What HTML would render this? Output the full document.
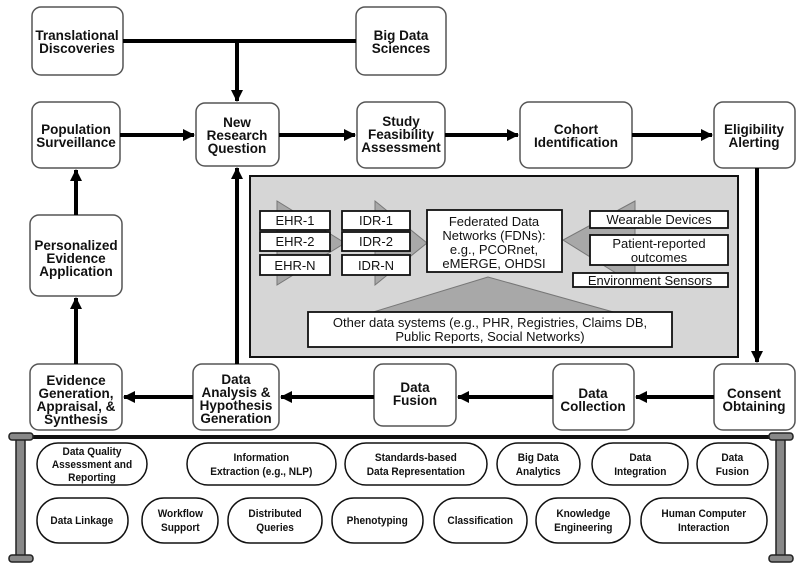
<!DOCTYPE html>
<html><head><meta charset="utf-8"><style>
html,body{margin:0;padding:0;background:#fff}
svg text{font-family:"Liberation Sans",sans-serif;font-weight:bold;fill:#111}
</style></head><body>
<svg width="800" height="570" viewBox="0 0 800 570" xmlns="http://www.w3.org/2000/svg">
<defs>
<marker id="a" markerWidth="12" markerHeight="12" refX="11" refY="6" orient="auto" markerUnits="userSpaceOnUse">
<path d="M0,0 L12,6 L0,12 z" fill="#000"/></marker>
</defs>
<g fill="#fff" stroke="#555" stroke-width="1.5">
<rect x="32" y="7" width="91" height="68" rx="9"/>
<rect x="356" y="7" width="90" height="68" rx="9"/>
<rect x="32" y="102" width="88" height="66" rx="9"/>
<rect x="196" y="103" width="83" height="63" rx="9"/>
<rect x="357" y="102" width="88" height="66" rx="9"/>
<rect x="520" y="102" width="112" height="66" rx="9"/>
<rect x="714" y="102" width="81" height="66" rx="9"/>
<rect x="30" y="215" width="92" height="81" rx="9"/>
<rect x="30" y="364" width="92" height="66" rx="9"/>
<rect x="193" y="364" width="86" height="66" rx="9"/>
<rect x="374" y="364" width="82" height="62" rx="9"/>
<rect x="553" y="364" width="81" height="66" rx="9"/>
<rect x="714" y="364" width="81" height="66" rx="9"/>
</g>
<g stroke="#000" stroke-width="4" fill="none">
<line x1="123" y1="41" x2="356" y2="41"/>
<line x1="237" y1="41" x2="237" y2="101" marker-end="url(#a)"/>
<line x1="120" y1="135" x2="194" y2="135" marker-end="url(#a)"/>
<line x1="279" y1="135" x2="355" y2="135" marker-end="url(#a)"/>
<line x1="445" y1="135" x2="518" y2="135" marker-end="url(#a)"/>
<line x1="632" y1="135" x2="712" y2="135" marker-end="url(#a)"/>
<line x1="757" y1="168" x2="757" y2="362" marker-end="url(#a)"/>
<line x1="714" y1="397" x2="636" y2="397" marker-end="url(#a)"/>
<line x1="553" y1="397" x2="458" y2="397" marker-end="url(#a)"/>
<line x1="374" y1="397" x2="281" y2="397" marker-end="url(#a)"/>
<line x1="193" y1="397" x2="124" y2="397" marker-end="url(#a)"/>
<line x1="76" y1="364" x2="76" y2="298" marker-end="url(#a)"/>
<line x1="76" y1="215" x2="76" y2="170" marker-end="url(#a)"/>
<line x1="237" y1="364" x2="237" y2="168" marker-end="url(#a)"/>
</g>
<g font-size="13.5" text-anchor="middle">
<text x="77" y="40">Translational</text><text x="77" y="53">Discoveries</text>
<text x="401" y="40">Big Data</text><text x="401" y="53">Sciences</text>
<text x="76" y="134">Population</text><text x="76" y="147">Surveillance</text>
<text x="237" y="127">New</text><text x="237" y="140">Research</text><text x="237" y="153">Question</text>
<text x="401" y="126">Study</text><text x="401" y="139">Feasibility</text><text x="401" y="152">Assessment</text>
<text x="576" y="134">Cohort</text><text x="576" y="147">Identification</text>
<text x="754" y="134">Eligibility</text><text x="754" y="147">Alerting</text>
<text x="76" y="250">Personalized</text><text x="76" y="263">Evidence</text><text x="76" y="276">Application</text>
<text x="76" y="385">Evidence</text><text x="76" y="398">Generation,</text><text x="76" y="411">Appraisal, &amp;</text><text x="76" y="424">Synthesis</text>
<text x="236" y="384">Data</text><text x="236" y="397">Analysis &amp;</text><text x="236" y="410">Hypothesis</text><text x="236" y="423">Generation</text>
<text x="415" y="392">Data</text><text x="415" y="405">Fusion</text>
<text x="593" y="398">Data</text><text x="593" y="411">Collection</text>
<text x="754" y="398">Consent</text><text x="754" y="411">Obtaining</text>
</g>
<rect x="250" y="176" width="488" height="181" fill="#d6d6d6" stroke="#111" stroke-width="2"/>
<g fill="#a8a8a8" stroke="#777" stroke-width="1">
<polygon points="277,201 277,285 345,243"/>
<polygon points="375,201 375,285 427,243"/>
<polygon points="635,201 635,285 563,240"/>
<polygon points="488,277 370,313 617,313"/>
</g>
<g fill="#fff" stroke="#111" stroke-width="1.8">
<rect x="260" y="211" width="70" height="19"/>
<rect x="260" y="232" width="70" height="19"/>
<rect x="260" y="255" width="70" height="20"/>
<rect x="342" y="211" width="68" height="19"/>
<rect x="342" y="232" width="68" height="19"/>
<rect x="342" y="255" width="68" height="20"/>
<rect x="427" y="210" width="135" height="62"/>
<rect x="590" y="211" width="138" height="17"/>
<rect x="590" y="235" width="138" height="30"/>
<rect x="573" y="273" width="155" height="14"/>
<rect x="308" y="312" width="364" height="35"/>
</g>
<g font-size="13" text-anchor="middle">
<text x="295" y="225" style="font-weight:normal">EHR-1</text>
<text x="295" y="246" style="font-weight:normal">EHR-2</text>
<text x="295" y="270" style="font-weight:normal">EHR-N</text>
<text x="376" y="225" style="font-weight:normal">IDR-1</text>
<text x="376" y="246" style="font-weight:normal">IDR-2</text>
<text x="376" y="270" style="font-weight:normal">IDR-N</text>
<text x="494" y="226" style="font-weight:normal">Federated Data</text>
<text x="494" y="240" style="font-weight:normal">Networks (FDNs):</text>
<text x="494" y="254" style="font-weight:normal">e.g., PCORnet,</text>
<text x="494" y="268" style="font-weight:normal">eMERGE, OHDSI</text>
<text x="659" y="224" style="font-weight:normal">Wearable Devices</text>
<text x="659" y="248" style="font-weight:normal">Patient-reported</text>
<text x="659" y="262" style="font-weight:normal">outcomes</text>
<text x="650" y="285" style="font-weight:normal">Environment Sensors</text>
<text x="490" y="327" style="font-weight:normal">Other data systems (e.g., PHR, Registries, Claims DB,</text>
<text x="490" y="341" style="font-weight:normal">Public Reports, Social Networks)</text>
</g>
<line x1="10" y1="437" x2="790" y2="437" stroke="#111" stroke-width="4"/>
<g fill="#888" stroke="#222" stroke-width="1.5">
<rect x="16" y="437" width="9" height="120"/>
<rect x="776" y="437" width="9" height="120"/>
<rect x="9" y="433" width="24" height="7" rx="3"/>
<rect x="9" y="555" width="24" height="7" rx="3"/>
<rect x="769" y="433" width="24" height="7" rx="3"/>
<rect x="769" y="555" width="24" height="7" rx="3"/>
</g>
<g fill="#fff" stroke="#111" stroke-width="1.5">
<rect x="37" y="443" width="110" height="42" rx="21"/>
<rect x="187" y="443" width="149" height="42" rx="21"/>
<rect x="345" y="443" width="142" height="42" rx="21"/>
<rect x="497" y="443" width="83" height="42" rx="21"/>
<rect x="592" y="443" width="96" height="42" rx="21"/>
<rect x="697" y="443" width="71" height="42" rx="21"/>
<rect x="37" y="498" width="91" height="45" rx="22"/>
<rect x="142" y="498" width="76" height="45" rx="22"/>
<rect x="228" y="498" width="94" height="45" rx="22"/>
<rect x="332" y="498" width="91" height="45" rx="22"/>
<rect x="434" y="498" width="93" height="45" rx="22"/>
<rect x="536" y="498" width="94" height="45" rx="22"/>
<rect x="641" y="498" width="126" height="45" rx="22"/>
</g>
<g font-size="11" text-anchor="middle" transform="scale(0.92,1)">
<text x="100" y="455">Data Quality</text><text x="100" y="468">Assessment and</text><text x="100" y="481">Reporting</text>
<text x="284" y="461">Information</text><text x="284" y="475">Extraction (e.g., NLP)</text>
<text x="452" y="461">Standards-based</text><text x="452" y="475">Data Representation</text>
<text x="585" y="461">Big Data</text><text x="585" y="475">Analytics</text>
<text x="696" y="461">Data</text><text x="696" y="475">Integration</text>
<text x="796" y="461">Data</text><text x="796" y="475">Fusion</text>
<text x="89" y="524">Data Linkage</text>
<text x="196" y="517">Workflow</text><text x="196" y="531">Support</text>
<text x="299" y="517">Distributed</text><text x="299" y="531">Queries</text>
<text x="410" y="524">Phenotyping</text>
<text x="522" y="524">Classification</text>
<text x="634" y="517">Knowledge</text><text x="634" y="531">Engineering</text>
<text x="765" y="517">Human Computer</text><text x="765" y="531">Interaction</text>
</g>
</svg>
</body></html>
